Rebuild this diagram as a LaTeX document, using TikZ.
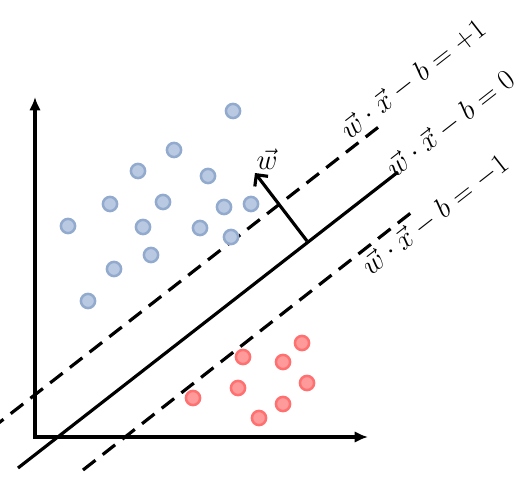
\documentclass[tikz,border=0pt]{standalone}
\usepackage{amsmath,amssymb}
\usepackage{xcolor}
\usepackage{tikz}
\usetikzlibrary{arrows.meta}
\definecolor{ptblue}{RGB}{185,201,226}
\definecolor{ptblueline}{RGB}{146,170,206}
\definecolor{ptred}{RGB}{255,154,154}
\definecolor{ptredline}{RGB}{255,112,112}

\begin{document}
\begin{tikzpicture}[
  x=24pt, y=24pt,
  font=\fontsize{16.5}{19}\selectfont,
  posdot/.style={circle, draw=ptblueline, fill=ptblue, line width=1.5pt, minimum size=8.5pt, inner sep=0pt},
  negdot/.style={circle, draw=ptredline, fill=ptred, line width=1.5pt, minimum size=8.5pt, inner sep=0pt},
  ax/.style={line width=1.9pt, {Latex[length=8pt, width=7pt]}-{Latex[length=8pt, width=7pt]}},
  hyp/.style={line width=1.9pt},
  marg/.style={line width=1.9pt, dash pattern=on 9.5pt off 5.5pt},
  nrm/.style={line width=1.9pt, -{Straight Barb[length=5pt, width=10pt]}},
  lab/.style={rotate=38, inner sep=1pt},
]
\useasboundingbox (-0.875,-0.975) rectangle (12.125,10.925);

% axes
\coordinate (O) at (0,0);
\coordinate (ytip) at (0,8.5);
\coordinate (xtip) at (8.325,0);
\draw[ax] (ytip) -- (O) -- (xtip);

% separating line and margins
\coordinate (h0) at (-0.425,-0.775);
\coordinate (h1) at (9.075,6.625);
\coordinate (u0) at (-1.1,0.2);
\coordinate (u1) at (8.575,7.74);
\coordinate (d0) at (1.2,-0.825);
\coordinate (d1) at (9.425,5.625);
\draw[hyp] (h0) -- (h1);
\draw[marg] (u0) -- (u1);
\draw[marg] (d0) -- (d1);

% normal vector
\coordinate (wf) at (6.8,4.9);
\coordinate (wt) at (5.5,6.6);
\draw[nrm] (wf) -- (wt);
\node (wlab) at (5.8,6.95) {$\vec{w}$};

\node[lab] (lp) at (9.45,8.95) {$\vec{w}\cdot\vec{x}-b=+1$};
\node[lab] (lz) at (10.38,7.83) {$\vec{w}\cdot\vec{x}-b=0$};
\node[lab] (lm) at (10.0,5.55) {$\vec{w}\cdot\vec{x}-b=-1$};

% class +1
\node[posdot] (p1) at (4.95,8.15) {};
\node[posdot] (p2) at (3.475,7.175) {};
\node[posdot] (p3) at (2.575,6.65) {};
\node[posdot] (p4) at (4.325,6.525) {};
\node[posdot] (p5) at (1.875,5.825) {};
\node[posdot] (p6) at (3.2,5.875) {};
\node[posdot] (p7) at (4.725,5.75) {};
\node[posdot] (p8) at (5.4,5.825) {};
\node[posdot] (p9) at (0.825,5.275) {};
\node[posdot] (p10) at (2.7,5.25) {};
\node[posdot] (p11) at (4.125,5.225) {};
\node[posdot] (p12) at (4.9,5.0) {};
\node[posdot] (p13) at (2.9,4.55) {};
\node[posdot] (p14) at (1.975,4.2) {};
\node[posdot] (p15) at (1.325,3.4) {};

% class -1
\node[negdot] (n1) at (6.675,2.35) {};
\node[negdot] (n2) at (5.2,2.0) {};
\node[negdot] (n3) at (6.2,1.875) {};
\node[negdot] (n4) at (6.8,1.35) {};
\node[negdot] (n5) at (5.075,1.225) {};
\node[negdot] (n6) at (3.95,0.975) {};
\node[negdot] (n7) at (6.2,0.825) {};
\node[negdot] (n8) at (5.6,0.475) {};
\end{tikzpicture}
\end{document}
